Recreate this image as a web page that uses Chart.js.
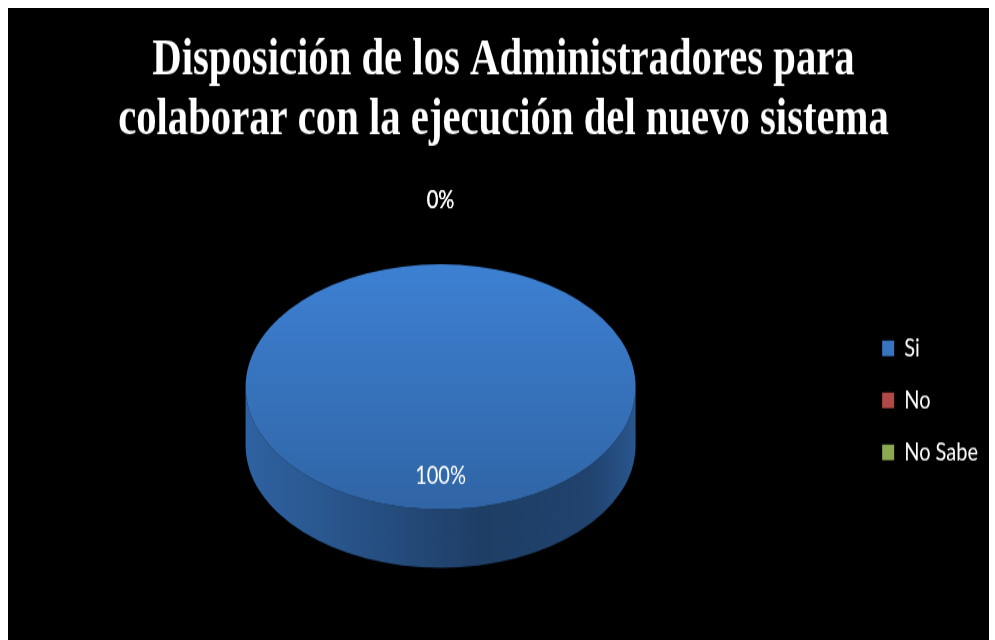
<!DOCTYPE html>
<html>
<head>
<meta charset="utf-8">
<script src="https://cdn.jsdelivr.net/npm/chart.js@4.4.0/dist/chart.umd.min.js"></script>
<style>
  html, body { margin: 0; background: #fff; }
  /* the chart is laid out flat and stretched to its final height */
  #wrap { position: absolute; left: 8px; top: 8px; width: 981px; height: 486px;
          transform: scaleY(1.3004); transform-origin: 0 0; }
  canvas { background: #000; display: block; }
</style>
</head>
<body>
<div id="wrap"><canvas id="pie" width="981" height="486"></canvas></div>
<script>
const titleLines = ["Disposición de los Administradores para", "colaborar con la ejecución del nuevo sistema"];
const categories = ["Si", "No", "No Sabe"];
const percents = [100, 0, 0];
const sliceColors = ["#3b7bca", "#c0504d", "#9bbb59"];

const pieRadius = 195;
const tilt = 0.483;   // how flat the top of the disc looks
const depth = 45;     // thickness of the disc

function shade(hex, f) {
  const n = parseInt(hex.slice(1), 16);
  const c = [(n >> 16) & 255, (n >> 8) & 255, n & 255].map(v => Math.min(255, Math.round(v * f)));
  return "rgb(" + c.join(",") + ")";
}

// top face: slightly lighter at the back, darker towards the front
function faceFill(c) {
  const base = sliceColors[c.dataIndex];
  const area = c.chart.chartArea;
  if (!area) return base;
  const cy = (area.top + area.bottom) / 2;
  const g = c.chart.ctx.createLinearGradient(0, cy - pieRadius, 0, cy + pieRadius);
  g.addColorStop(0, shade(base, 1.04));
  g.addColorStop(1, shade(base, 0.82));
  return g;
}

// draws the side wall of the disc, then flattens the slices drawn on top
const tiltPlugin = {
  id: "tilt",
  beforeDatasetsDraw(chart) {
    const ctx = chart.ctx;
    const arcs = chart.getDatasetMeta(0).data;
    const {x, y, outerRadius: r} = arcs[0];
    arcs.forEach((arc, i) => {
      // only the front half (0..PI) of a slice shows its wall
      const a0 = Math.max(arc.startAngle, 0);
      const a1 = Math.min(arc.endAngle, Math.PI);
      if (a1 <= a0) return;
      const base = sliceColors[i];
      const g = ctx.createLinearGradient(x - r, 0, x + r, 0);
      g.addColorStop(0, shade(base, 0.8));
      g.addColorStop(0.3, shade(base, 0.66));
      g.addColorStop(0.6, shade(base, 0.5));
      g.addColorStop(0.88, shade(base, 0.54));
      g.addColorStop(1, shade(base, 0.7));
      ctx.save();
      ctx.beginPath();
      ctx.ellipse(x, y, r, r * tilt, 0, a0, a1);
      ctx.ellipse(x, y + depth, r, r * tilt, 0, a1, a0, true);
      ctx.closePath();
      ctx.fillStyle = g;
      ctx.fill();
      ctx.restore();
    });
    ctx.save();
    ctx.translate(x, y);
    ctx.scale(1, tilt);
    ctx.translate(-x, -y);
  },
  afterDatasetsDraw(chart) {
    const ctx = chart.ctx;
    ctx.restore();
    // percentage labels
    const arcs = chart.getDatasetMeta(0).data;
    ctx.save();
    ctx.font = "20px Lato";
    ctx.fillStyle = "#fff";
    ctx.textAlign = "center";
    ctx.textBaseline = "middle";
    arcs.forEach((arc, i) => {
      const mid = (arc.startAngle + arc.endAngle) / 2;
      const r = arc.outerRadius;
      let px, py;
      if (percents[i] > 0) {
        px = arc.x + Math.cos(mid) * r * 0.72;
        py = arc.y + Math.sin(mid) * r * 0.72 * tilt;
      } else {
        px = arc.x + Math.cos(mid) * (r + 50);
        py = arc.y + Math.sin(mid) * (r * tilt + 50);
      }
      ctx.fillText(percents[i] + "%", px, py);
    });
    ctx.restore();
  }
};

const pieConfig = {
  type: "pie",
  data: {
    labels: categories,
    datasets: [{
      data: percents,
      backgroundColor: faceFill,
      borderWidth: 0,
      radius: pieRadius,
    }],
  },
  options: {
    responsive: false,
    animation: false,
    events: [],
    devicePixelRatio: 1,
    layout: { padding: { left: 11, right: 1, top: 0, bottom: 23 } },
    plugins: {
      title: {
        display: true,
        text: titleLines,
        color: "#fff",
        font: { family: "'Liberation Serif', 'Times New Roman', serif", size: 40.7, weight: "bold", lineHeight: 1.137 },
        padding: { top: 17, bottom: 10 },
      },
      legend: {
        position: "right",
        fullSize: false,
        title: { display: true, text: "", padding: 0, font: { size: 21, lineHeight: 1 } },
        labels: {
          color: "#fff",
          font: { family: "Lato", size: 20 },
          boxWidth: 12,
          boxHeight: 12,
          padding: 20,
        },
      },
      tooltip: { enabled: false },
    },
  },
  plugins: [tiltPlugin],
};

const pieCtx = document.getElementById("pie");
window.myPie = new Chart(pieCtx, pieConfig);
</script>
</body>
</html>
